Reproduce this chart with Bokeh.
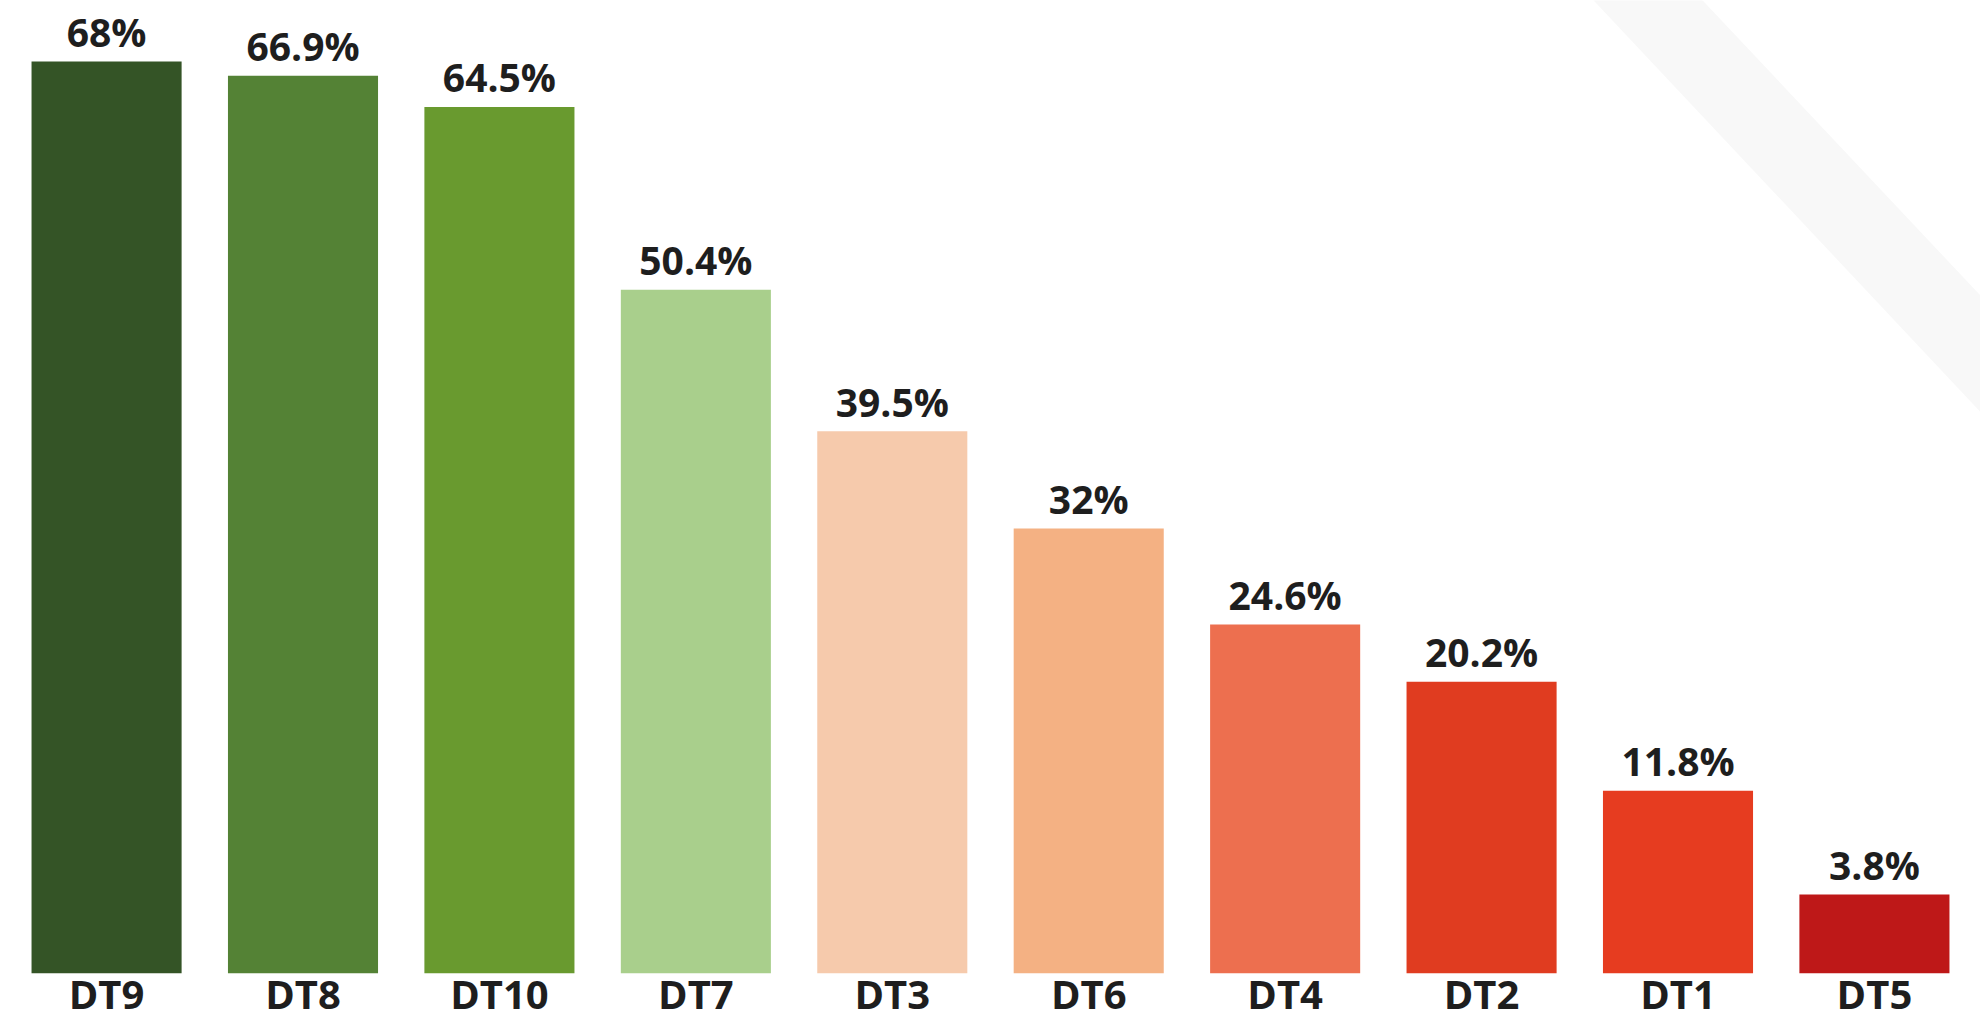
from bokeh.plotting import figure
from bokeh.models import ColumnDataSource, FactorRange, Range1d
from bokeh.core.properties import value
from bokeh.embed import file_html
from bokeh.resources import INLINE

# ---- data ----
categories = ["DT9", "DT8", "DT10", "DT7", "DT3", "DT6", "DT4", "DT2", "DT1", "DT5"]
values = [68, 66.9, 64.5, 50.4, 39.5, 32, 24.6, 20.2, 11.8, 3.8]
value_labels = ["68%", "66.9%", "64.5%", "50.4%", "39.5%", "32%", "24.6%", "20.2%", "11.8%", "3.8%"]
colors = ["#345426", "#548235", "#699A2F", "#A9CF8C", "#F6CAAC",
          "#F4B183", "#ED6F4F", "#E03C20", "#E63C20", "#BE1818"]

# ---- layout / style constants ----
Y_BASE = -2.27
Y_MIN, Y_MAX = -6.22, 72.70
TEXT_COLOR = "#1e1e1e"
FONT = value("Open Sans")

src = ColumnDataSource(dict(cat=categories, val=values, lab=value_labels, color=colors))

p = figure(
    x_range=FactorRange(*categories, range_padding=0.008),
    y_range=Range1d(Y_MIN, Y_MAX),
    width=1980, height=1024,
    output_backend="svg", toolbar_location=None,
    min_border=0,
)
p.axis.visible = False
p.grid.visible = False
p.outline_line_color = None
p.background_fill_color = "white"
p.border_fill_color = "white"

# decorative diagonal stripe in the top-right corner
p.patch(x=[7.975, 8.530, 10.143, 10.143], y=[74.24, 74.24, 48.30, 39.33],
        fill_color="#f8f8f8", line_color=None)

p.vbar(x="cat", top="val", bottom=Y_BASE, width=0.764, fill_color="color",
       line_color=None, source=src)

p.text(x="cat", y="val", text="lab", source=src,
       text_align="center", text_baseline="alphabetic", y_offset=-30,
       text_font=FONT, text_font_style="bold", text_font_size="39px",
       text_color=TEXT_COLOR)

p.text(x="cat", y=Y_BASE, text="cat", source=src,
       text_align="center", text_baseline="alphabetic", y_offset=20,
       text_font=FONT, text_font_style="bold", text_font_size="40px",
       text_color=TEXT_COLOR)

open("out.html", "w").write(file_html(p, INLINE))
